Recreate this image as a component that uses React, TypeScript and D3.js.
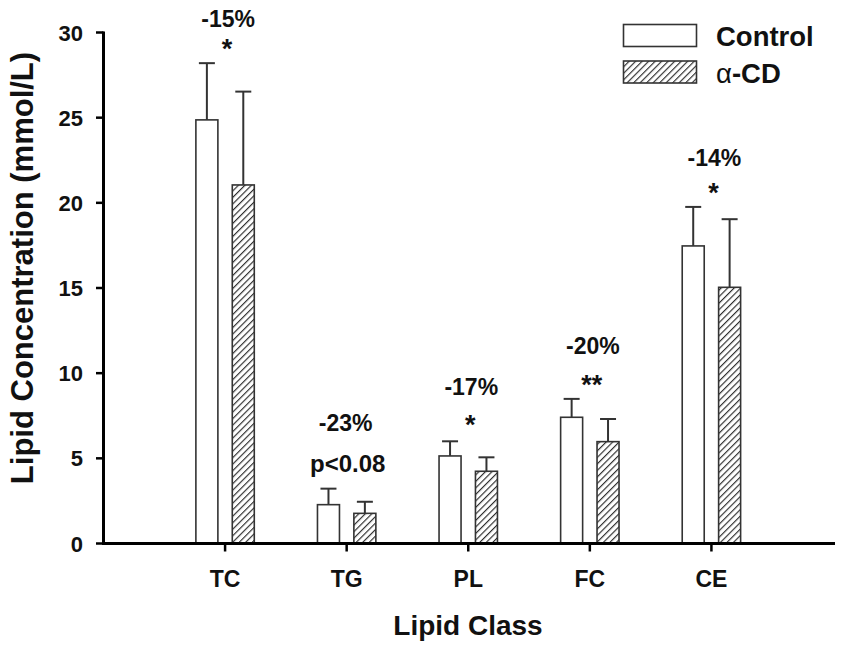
import React from "react";
import * as d3 from "d3";

const categories = ["TC", "TG", "PL", "FC", "CE"];
const controlMean = [24.87, 2.28, 5.14, 7.41, 17.47];
const controlSD = [3.33, 0.94, 0.86, 1.08, 2.29];
const cdMean = [21.05, 1.77, 4.24, 5.98, 15.04];
const cdSD = [5.48, 0.68, 0.82, 1.33, 4.0];
const pctLabels = ["-15%", "-23%", "-17%", "-20%", "-14%"];
const sigLabels = ["*", "p<0.08", "*", "**", "*"];
const pctY = [30.31, 6.62, 8.72, 11.13, 22.17];
const sigY = [28.53, 4.21, 6.45, 8.8, 20.05];
const yTicks = [0, 5, 10, 15, 20, 25, 30];
const seriesNames = ["Control", "\u03b1-CD"];

const W = 844;
const H = 646;
const FONT = "'Liberation Sans', Arial, Helvetica, sans-serif";

export default function App() {
  const x = d3.scalePoint<string>().domain(categories).range([103.5, 833]).padding(1);
  const y = d3.scaleLinear().domain([0, 30]).range([543.5, 32.5]);
  const barW = 22;
  const off = 18.2;
  const capW = 16;
  const stroke = "#333";

  return (
    <svg
      width={W}
      height={H}
      style={{ position: "absolute", left: 0, top: 0, background: "#fff" }}
      fontFamily={FONT}
    >
      <defs>
        <pattern
          id="hatch"
          patternUnits="userSpaceOnUse"
          width={4.6}
          height={4.6}
          patternTransform="rotate(45)"
        >
          <rect width={4.6} height={4.6} fill="#fff" />
          <line x1={0.6} y1={0} x2={0.6} y2={4.6} stroke="#222" strokeWidth={1.1} />
        </pattern>
      </defs>
      <rect width={W} height={H} fill="#fff" />

      {categories.map((c, i) => {
        const cx = x(c)!;
        const cxC = cx - off;
        const cxD = cx + off;
        const isP = sigLabels[i].startsWith("p");
        return (
          <g key={c}>
            <line x1={cxC} x2={cxC} y1={y(controlMean[i])} y2={y(controlMean[i] + controlSD[i])} stroke={stroke} strokeWidth={2} />
            <line x1={cxC - capW / 2} x2={cxC + capW / 2} y1={y(controlMean[i] + controlSD[i])} y2={y(controlMean[i] + controlSD[i])} stroke={stroke} strokeWidth={2} />
            <rect x={cxC - barW / 2} y={y(controlMean[i])} width={barW} height={y(0) - y(controlMean[i])} fill="#fff" stroke={stroke} strokeWidth={1.6} />
            <line x1={cxD} x2={cxD} y1={y(cdMean[i])} y2={y(cdMean[i] + cdSD[i])} stroke={stroke} strokeWidth={2} />
            <line x1={cxD - capW / 2} x2={cxD + capW / 2} y1={y(cdMean[i] + cdSD[i])} y2={y(cdMean[i] + cdSD[i])} stroke={stroke} strokeWidth={2} />
            <rect x={cxD - barW / 2} y={y(cdMean[i])} width={barW} height={y(0) - y(cdMean[i])} fill="url(#hatch)" stroke={stroke} strokeWidth={1.6} />
            <text x={cx + (isP ? -1 : 3)} y={y(pctY[i])} textAnchor="middle" fontSize={23} fontWeight="bold" fill="#111">
              {pctLabels[i]}
            </text>
            <text
              x={cx + (isP ? 1 : 2)}
              y={y(sigY[i])}
              textAnchor="middle"
              fontSize={isP ? 24 : 27}
              fontWeight="bold"
              fill="#111"
            >
              {sigLabels[i]}
            </text>
          </g>
        );
      })}

      <line x1={103.5} x2={103.5} y1={y(30) - 1} y2={y(0) + 1.5} stroke="#000" strokeWidth={3} />
      {yTicks.map((t) => (
        <g key={t}>
          <line x1={96} x2={103.5} y1={y(t)} y2={y(t)} stroke="#000" strokeWidth={2.5} />
          <text x={83} y={y(t) + 8} textAnchor="end" fontSize={22} fontWeight="bold" fill="#111">
            {t}
          </text>
        </g>
      ))}

      <line x1={102} x2={835} y1={y(0)} y2={y(0)} stroke="#000" strokeWidth={3} />
      {categories.map((c) => (
        <g key={"xt" + c}>
          <line x1={x(c)!} x2={x(c)!} y1={y(0)} y2={y(0) + 8} stroke="#000" strokeWidth={2.5} />
          <text x={x(c)!} y={587} textAnchor="middle" fontSize={23} fontWeight="bold" fill="#111">
            {c}
          </text>
        </g>
      ))}

      <text x={468} y={635} textAnchor="middle" fontSize={28} fontWeight="bold" fill="#111">
        Lipid Class
      </text>
      <text
        transform={`translate(33,${268}) rotate(-90)`}
        textAnchor="middle"
        fontSize={31}
        fontWeight="bold"
        fill="#111"
      >
        Lipid Concentration (mmol/L)
      </text>

      <rect x={623.5} y={24.5} width={73} height={22} fill="#fff" stroke={stroke} strokeWidth={1.6} />
      <rect x={623.5} y={61} width={73} height={22} fill="url(#hatch)" stroke={stroke} strokeWidth={1.6} />
      <text x={716} y={46} fontSize={27.5} fontWeight="bold" fill="#111">
        {seriesNames[0]}
      </text>
      <text x={716} y={82.5} fontSize={27.5} fontWeight="bold" fill="#111">
        <tspan fontWeight="normal">{seriesNames[1].slice(0, 1)}</tspan>
        {seriesNames[1].slice(1)}
      </text>
    </svg>
  );
}
